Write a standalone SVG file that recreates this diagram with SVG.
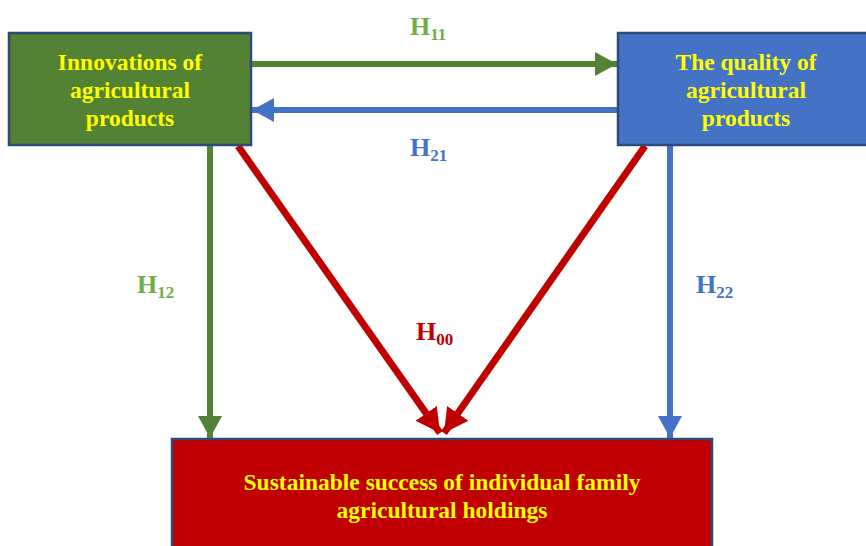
<svg xmlns="http://www.w3.org/2000/svg" width="866" height="546" viewBox="0 0 866 546">
<style>
.box{stroke:#2F4A7A;stroke-width:2.5}
.t{font-family:"Liberation Serif","Times New Roman",serif;font-weight:bold;font-size:23.5px;fill:#FFFF00;text-anchor:middle}
.h{font-family:"Liberation Serif","Times New Roman",serif;font-weight:bold;font-size:26px}
.s{font-size:17px}
.g{stroke:#548235}
.b{stroke:#4472C4}
.r{stroke:#C00000}
</style>
<defs>
<marker id="mg" markerUnits="userSpaceOnUse" markerWidth="26" markerHeight="26" refX="22" refY="12" orient="auto"><path d="M0,0 L22,12 L0,24 Z" fill="#548235"/></marker>
<marker id="mb" markerUnits="userSpaceOnUse" markerWidth="26" markerHeight="26" refX="22" refY="12" orient="auto"><path d="M0,0 L22,12 L0,24 Z" fill="#4472C4"/></marker>
<marker id="mr" markerUnits="userSpaceOnUse" markerWidth="28" markerHeight="28" refX="24" refY="13" orient="auto"><path d="M0,0 L24,13 L0,26 Z" fill="#C00000"/></marker>
</defs>
<g id="connectors" fill="none" stroke-width="6">
<line class="g" x1="252" y1="64" x2="617" y2="64" marker-end="url(#mg)"/>
<line class="b" x1="617" y1="110" x2="252" y2="110" marker-end="url(#mb)"/>
<line class="g" x1="210" y1="145" x2="210" y2="438" marker-end="url(#mg)"/>
<line class="b" x1="670" y1="145" x2="670" y2="438" marker-end="url(#mb)"/>
<line class="r" stroke-width="7" x1="238" y1="146" x2="440" y2="433" marker-end="url(#mr)"/>
<line class="r" stroke-width="7" x1="645" y1="146" x2="444" y2="433" marker-end="url(#mr)"/>
</g>
<g id="labels" class="h">
<text x="410" y="35" fill="#70AD47">H<tspan class="s" dy="5">11</tspan></text>
<text x="410" y="156" fill="#4472C4">H<tspan class="s" dy="5">21</tspan></text>
<text x="137" y="293" fill="#70AD47">H<tspan class="s" dy="5">12</tspan></text>
<text x="696" y="293" fill="#4472C4">H<tspan class="s" dy="5">22</tspan></text>
<text x="416" y="340" fill="#C00000">H<tspan class="s" dy="5">00</tspan></text>
</g>
<g id="innovations">
<rect class="box" x="9" y="33" width="242" height="112" fill="#548235"/>
<text class="t" x="130" y="70">Innovations of</text>
<text class="t" x="130" y="98">agricultural</text>
<text class="t" x="130" y="126">products</text>
</g>
<g id="quality">
<rect class="box" x="618" y="33" width="252" height="112" fill="#4472C4"/>
<text class="t" x="746" y="70">The quality of</text>
<text class="t" x="746" y="98">agricultural</text>
<text class="t" x="746" y="126">products</text>
</g>
<g id="success">
<rect class="box" x="172" y="439" width="540" height="120" fill="#C00000"/>
<text class="t" x="442" y="490">Sustainable success of individual family</text>
<text class="t" x="442" y="518">agricultural holdings</text>
</g>
</svg>
